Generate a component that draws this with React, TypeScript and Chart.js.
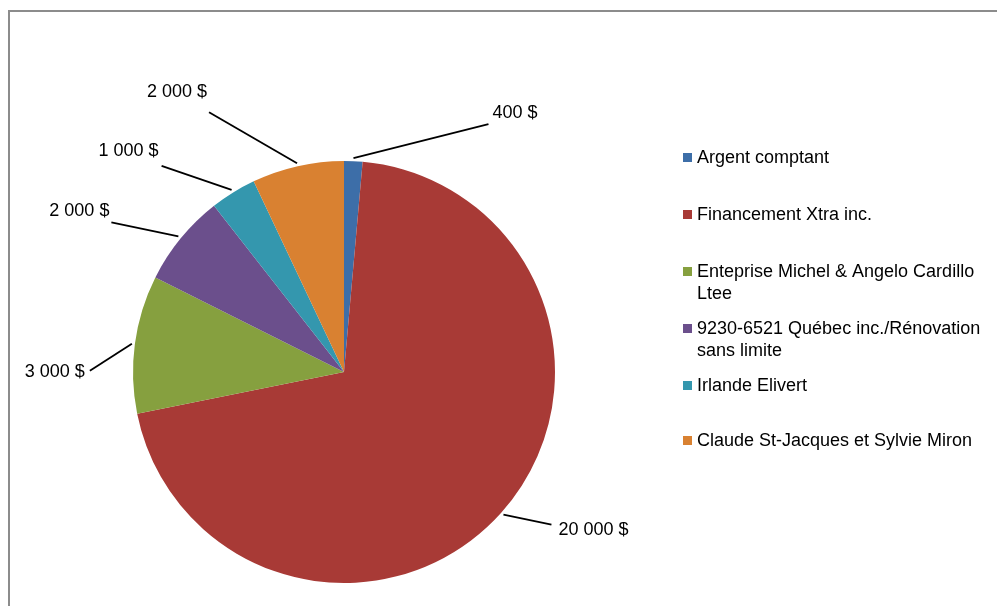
import React, { useEffect, useRef } from "react";
import { Chart, registerables } from "chart.js";

Chart.register(...registerables);

const categories = [
  "Argent comptant",
  "Financement Xtra inc.",
  "Enteprise Michel & Angelo Cardillo Ltee",
  "9230-6521 Québec inc./Rénovation sans limite",
  "Irlande Elivert",
  "Claude St-Jacques et Sylvie Miron",
];
const amounts = [400, 20000, 3000, 2000, 1000, 2000];
const valueLabels = ["400 $", "20 000 $", "3 000 $", "2 000 $", "1 000 $", "2 000 $"];
const sliceColors = ["#3d6ea8", "#a83a36", "#86a03f", "#6b4f8c", "#3497ae", "#d98131"];

// layout of leader lines (offset of leader end from slice edge) and labels (offset from leader end)
const leaderOffsets = [
  [135, -34],
  [48, 10],
  [-42, 27],
  [-67, -14],
  [-70, -24],
  [-88, -51],
];
const labelOffsets = [
  [4, -11],
  [7, 5],
  [-5, 1],
  [-2, -11],
  [-3, -15],
  [-2, -20],
];

const FONT = '18px "Liberation Sans", Arial, sans-serif';

const overlayPlugin = {
  id: "overlay",
  afterDraw(chart: any) {
    const ctx = chart.ctx as CanvasRenderingContext2D;
    ctx.save();
    // frame (top and left edges)
    ctx.strokeStyle = "#8c8c8c";
    ctx.lineWidth = 2;
    ctx.beginPath();
    ctx.moveTo(9, 606);
    ctx.lineTo(9, 11);
    ctx.lineTo(997, 11);
    ctx.stroke();

    // data labels with leader lines
    const meta = chart.getDatasetMeta(0);
    ctx.font = FONT;
    ctx.fillStyle = "#000";
    ctx.strokeStyle = "#000";
    ctx.lineWidth = 1.8;
    ctx.textBaseline = "middle";
    meta.data.forEach((arc: any, i: number) => {
      const p = arc.getProps(["x", "y", "startAngle", "endAngle", "outerRadius"], true);
      const a = (p.startAngle + p.endAngle) / 2;
      const r = p.outerRadius + 3;
      const sx = p.x + r * Math.cos(a);
      const sy = p.y + r * Math.sin(a);
      const ex = sx + leaderOffsets[i][0];
      const ey = sy + leaderOffsets[i][1];
      ctx.beginPath();
      ctx.moveTo(sx, sy);
      ctx.lineTo(ex, ey);
      ctx.stroke();
      const right = leaderOffsets[i][0] > 0;
      ctx.textAlign = right ? "left" : "right";
      ctx.fillText(valueLabels[i], ex + labelOffsets[i][0], ey + labelOffsets[i][1]);
    });

    // legend
    const lx = 683;
    const tx = 697;
    let y = 158;
    const maxW = 296;
    ctx.textAlign = "left";
    categories.forEach((cat, i) => {
      const words = cat.split(" ");
      const lines: string[] = [];
      let cur = "";
      words.forEach((w) => {
        const test = cur ? cur + " " + w : w;
        if (ctx.measureText(test).width > maxW && cur) {
          lines.push(cur);
          cur = w;
        } else cur = test;
      });
      if (cur) lines.push(cur);
      ctx.fillStyle = sliceColors[i];
      ctx.fillRect(lx, y - 5, 9, 9);
      ctx.fillStyle = "#000";
      lines.forEach((ln, k) => ctx.fillText(ln, tx, y + k * 22));
      y += i === 4 ? 55 : 57;
    });
    ctx.restore();
  },
};

export default function App() {
  const ref = useRef<HTMLCanvasElement>(null);
  useEffect(() => {
    if (!ref.current) return;
    const chart = new Chart(ref.current, {
      type: "pie",
      data: {
        labels: categories,
        datasets: [
          {
            data: amounts,
            backgroundColor: sliceColors,
            borderWidth: 0,
          },
        ],
      },
      options: {
        responsive: false,
        animation: false,
        layout: { padding: { top: 161, bottom: 23, left: 133, right: 442 } },
        plugins: {
          legend: { display: false },
          tooltip: { enabled: false },
        },
      },
      plugins: [overlayPlugin],
    });
    return () => chart.destroy();
  }, []);
  return (
    <div style={{ position: "fixed", left: 0, top: 0, width: 997, height: 606, background: "#fff" }}>
      <canvas ref={ref} width={997} height={606} style={{ width: 997, height: 606, display: "block" }} />
    </div>
  );
}
